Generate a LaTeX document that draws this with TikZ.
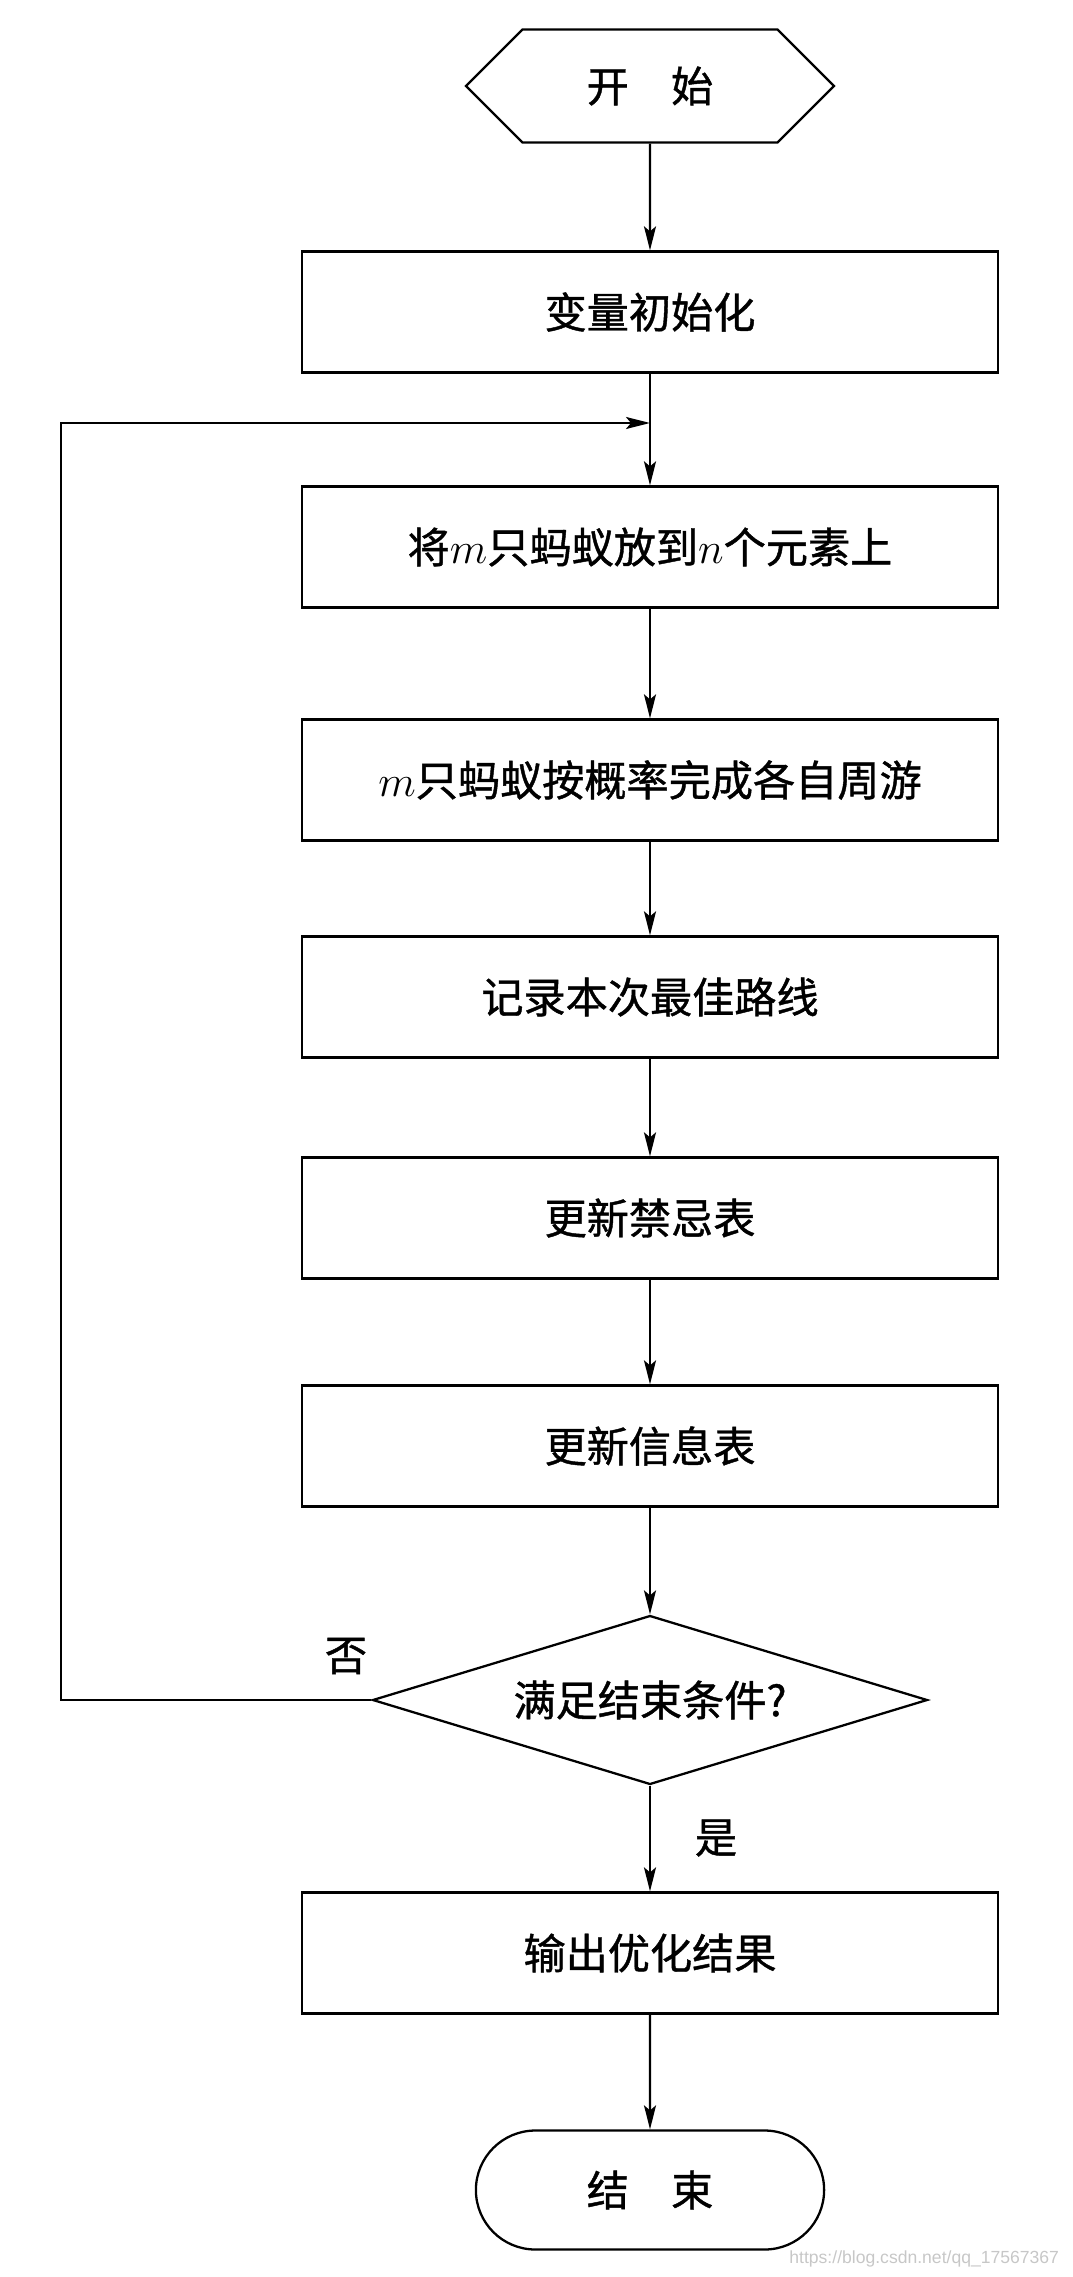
\documentclass[tikz,border=0pt]{standalone}
\usepackage{fontspec}
\setmainfont{Noto Sans CJK SC}[FakeBold=1]
\newfontfamily\wmfont{Liberation Sans}
\usepackage{tikz}
\usetikzlibrary{shapes.geometric}
\usetikzlibrary{shapes.misc}
\usetikzlibrary{shapes.symbols}
\usetikzlibrary{arrows.meta}
\tikzset{my_chart/.style={x=0.02cm,y=-0.02cm,line width=1.3pt,>={Stealth[length=0.48cm,width=0.24cm,inset=0.1cm]}}}
\tikzset{my_text/.style={font=\fontsize{24}{28}\selectfont}}
\tikzset{my_box/.style={rectangle, draw, my_text, minimum width=13.92cm, minimum height=2.42cm}}
\tikzset{my_start/.style={signal, signal to=west and east, signal pointer angle=90, draw, my_text, minimum width=7.36cm, minimum height=2.26cm}}
\tikzset{my_test/.style={diamond, aspect=3.28, draw, my_text, minimum width=11.1cm, minimum height=3.38cm, inner sep=0pt}}
\tikzset{my_stop/.style={rounded rectangle, draw, my_text, minimum width=7.2cm, minimum height=2.38cm}}

\begin{document}
\begin{tikzpicture}[my_chart]
    \useasboundingbox (0,0) rectangle (1072,2277);
    %\draw[help lines,step=100] (0,0) grid (1072,2277);
    \node[my_start] (start) at (650,86) {开\hspace{1em}始};
    \node[my_box] (init) at (650,312) {变量初始化};
    \node[my_box] (place) at (650,547) {将$m$只蚂蚁放到$n$个元素上};
    \node[my_box] (tour) at (650,780) {$m$只蚂蚁按概率完成各自周游};
    \node[my_box] (best) at (650,997) {记录本次最佳路线};
    \node[my_box] (tabu) at (650,1218) {更新禁忌表};
    \node[my_box] (info) at (650,1446) {更新信息表};
    \node[my_test] (test) at (650,1700) {满足结束条件?};
    \node[my_box] (out) at (650,1953) {输出优化结果};
    \node[my_stop] (stop) at (650,2190) {结\hspace{1em}束};

    \coordinate (join) at (650,423);
    \coordinate (back) at (61,1700);
    \node[my_text] (no) at (346,1656) {否};
    \node[my_text] (yes) at (716,1838) {是};
    \node[font=\wmfont\fontsize{10}{12}\selectfont, text=black!22, anchor=east] (mark) at (1066,2259) {https://blog.csdn.net/qq\_17567367};

    \path[->]
        (start) edge (init)
        (init) edge (place)
        (place) edge (tour)
        (tour) edge (best)
        (best) edge (tabu)
        (tabu) edge (info)
        (info) edge (test)
        (test) edge (out)
        (out) edge (stop)
    ;
    \draw[->] (test.west) -- (back) |- (join);
\end{tikzpicture}
\end{document}
